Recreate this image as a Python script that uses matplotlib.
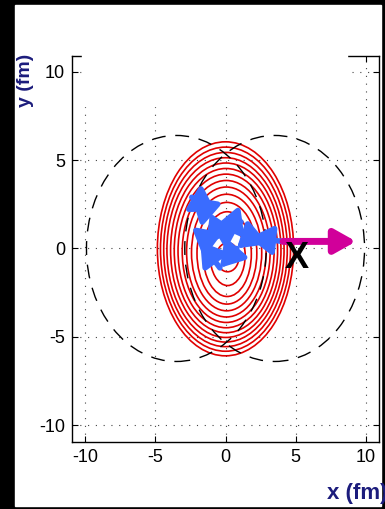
import matplotlib
matplotlib.use('Agg')
import matplotlib.pyplot as plt
from matplotlib.patches import Ellipse, Circle, Rectangle

plt.rcParams['axes.unicode_minus'] = False

# red density contours (ellipses): centre and half widths, outer -> inner
cont_cx = [0.0, 0.0, 0.0, 0.0, 0.02, 0.03, 0.04, 0.05, 0.06, 0.08, 0.1, 0.12, 0.15, 0.15]
cont_cy = [-0.02, -0.04, -0.06, -0.08, -0.1, -0.12, -0.14, -0.17, -0.2, -0.23, -0.27, -0.32, -0.4, -0.5]
cont_hw = [4.85, 4.63, 4.4, 4.17, 3.93, 3.68, 3.42, 3.13, 2.83, 2.5, 2.13, 1.72, 1.25, 0.8]
cont_hh = [6.06, 5.78, 5.5, 5.22, 4.94, 4.65, 4.35, 4.02, 3.68, 3.3, 2.88, 2.4, 1.7, 0.82]

# two nuclei (dashed circles)
nuc_x = [-3.5, 3.5]
nuc_r = 6.4

# jet path (blue arrows) and escaping jet (magenta)
path_x = [4.1, 1.7, 0.8, -0.4, -1.8, -0.2, 1.1, -0.7, -1.1, -2.4, -0.7]
path_y = [0.4, 0.6, 0.0, -1.1, 0.4, 0.9, 1.5, 1.3, 2.0, 2.9, 2.1]
jet_start = (4.1, 0.4)
jet_end = (9.3, 0.4)

ticks = [-10, -5, 0, 5, 10]

fig = plt.figure(figsize=(3.85, 5.09), dpi=100, facecolor='black')
fig.add_artist(Rectangle((15/385, 3/509), (381-15)/385, (505-4)/509,
                         transform=fig.transFigure, color='white', zorder=-1))

ax = fig.add_axes([72/385, 67/509, 307/385, 386/509])
ax.set_xlim(-10.93, 10.93)
ax.set_ylim(-10.96, 10.9)
ax.set_xticks(ticks)
ax.set_yticks(ticks)
ax.tick_params(direction='in', top=True, right=True, length=4, width=0.8,
               labelsize=13, pad=5)
for lab in ax.get_xticklabels() + ax.get_yticklabels():
    lab.set_family(['Liberation Sans', 'DejaVu Sans'])
for s in ax.spines.values():
    s.set_linewidth(1.0)
ax.grid(True, linestyle=(0, (1, 6)), color='#444444', linewidth=0.8)

for cx, cy, hw, hh in zip(cont_cx, cont_cy, cont_hw, cont_hh):
    ax.add_patch(Ellipse((cx, cy), 2*hw, 2*hh, fill=False, color='#e00000', lw=1.2, zorder=3))

for nx in nuc_x:
    ax.add_patch(Circle((nx, 0), nuc_r, fill=False, color='black', lw=1.0,
                        linestyle=(0, (10, 7)), zorder=4))

# blue: the jet wandering in the medium
for i in range(len(path_x) - 1):
    ax.annotate('', xy=(path_x[i+1], path_y[i+1]), xytext=(path_x[i], path_y[i]),
                arrowprops=dict(arrowstyle='-|>,head_length=0.8,head_width=0.5',
                                color='#3a6cff', lw=4,
                                mutation_scale=17, shrinkA=0, shrinkB=0), zorder=6)

ax.annotate('', xy=jet_end, xytext=jet_start,
            arrowprops=dict(arrowstyle='-|>,head_length=0.8,head_width=0.45',
                            color='#d1009a', lw=5, mutation_scale=16,
                            shrinkA=0, shrinkB=0), zorder=6)
ax.text(5.1, -0.55, 'X', fontsize=26, fontweight='bold', ha='center', va='center',
        family=['Liberation Sans', 'DejaVu Sans'], zorder=7)

# white box hiding the top of the frame
fig.add_artist(Rectangle((82/385, 1-106/509), (347-82)/385, 56/509,
                         transform=fig.transFigure, color='white', zorder=5))

fig.text(26/385, 1-80/509, 'y (fm)', rotation=90, fontsize=14, fontweight='bold',
         color='#1c1c7c', ha='center', va='center',
         family=['Liberation Sans Narrow', 'Liberation Sans'])
fig.text(327/385, 1-494/509, 'x (fm)', fontsize=16, fontweight='bold',
         color='#1c1c7c', ha='left', va='center',
         family=['Liberation Sans Narrow', 'Liberation Sans'])

fig.savefig('out.png', dpi=100, facecolor='black')
